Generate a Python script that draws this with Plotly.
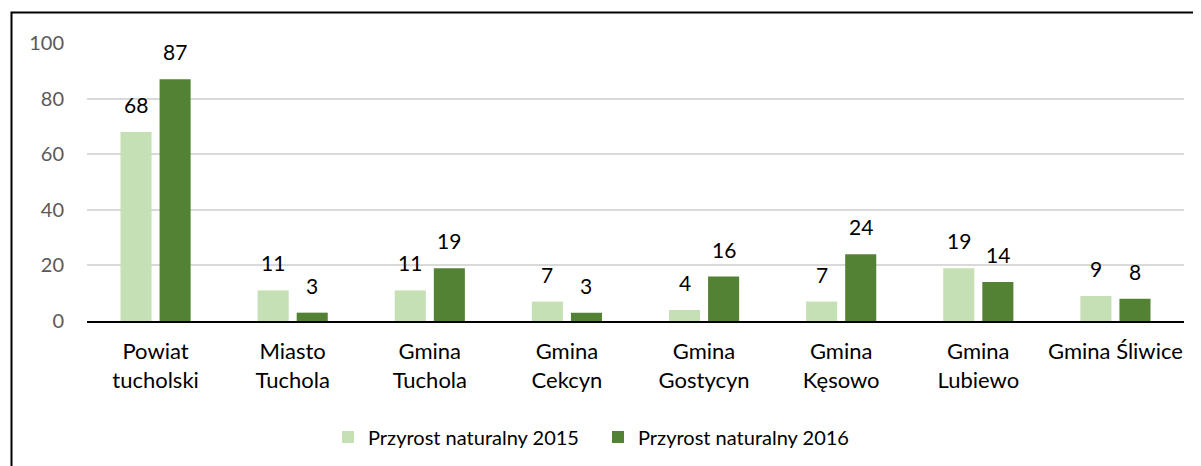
import plotly.graph_objects as go

categories = ["Powiat<br>tucholski", "Miasto<br>Tuchola", "Gmina<br>Tuchola", "Gmina<br>Cekcyn",
              "Gmina<br>Gostycyn", "Gmina<br>Kęsowo", "Gmina<br>Lubiewo", "Gmina Śliwice"]
values_2015 = [68, 11, 11, 7, 4, 7, 19, 9]
values_2016 = [87, 3, 19, 3, 16, 24, 14, 8]
series_names = ["Przyrost naturalny 2015", "Przyrost naturalny 2016"]
y_ticks = [0, 20, 40, 60, 80, 100]

# page body has an 8px margin; figure sized to fit the 1201x466 window
OFF = 8
W, H = 1201 - OFF, 466 - OFF
ML, MT = 87 - OFF, 43 - OFF
PW, PH = 1097, 278
MR = W - ML - PW
MB = H - MT - PH
FONT = "Lato, 'Open Sans', sans-serif"

fig = go.Figure()
fig.add_trace(go.Bar(x=categories, y=values_2015, name=series_names[0],
                     marker=dict(color="#C5E0B4", line=dict(width=0))))
fig.add_trace(go.Bar(x=categories, y=values_2016, name=series_names[1],
                     marker=dict(color="#548235", line=dict(width=0))))

annotations = []
for vals, shift in ((values_2015, -19.5), (values_2016, 19.5)):
    for c, v in zip(categories, vals):
        annotations.append(dict(x=c, y=v, xref="x", yref="y", text=str(v), showarrow=False,
                                xshift=shift, yshift=13, yanchor="bottom",
                                font=dict(family=FONT, size=21, color="#000000")))

shapes = [dict(type="rect", xref="paper", yref="paper",
               x0=(11.5 - OFF - ML) / PW, x1=(W + 20 - ML) / PW,
               y0=(MT + PH - (H + 20)) / PH, y1=(MT + PH - (12.5 - OFF)) / PH,
               line=dict(color="#000000", width=2), fillcolor="rgba(0,0,0,0)", layer="below")]

fig.update_layout(
    width=W, height=H,
    margin=dict(l=ML, r=MR, t=MT, b=MB, autoexpand=False),
    paper_bgcolor="white", plot_bgcolor="white",
    barmode="group", bargap=0.43, bargroupgap=0.205,
    font=dict(family=FONT, size=20, color="#000000"),
    showlegend=True,
    legend=dict(orientation="h", x=(342 - OFF - ML - 14) / PW, xanchor="left",
                y=(MT + PH - (437 - OFF)) / PH, yanchor="middle",
                font=dict(family=FONT, size=20, color="#000000"),
                itemwidth=30, traceorder="normal", bgcolor="rgba(0,0,0,0)",
                entrywidth=225, entrywidthmode="pixels"),
    annotations=annotations,
    shapes=shapes,
    xaxis=dict(showline=True, linecolor="#000000", linewidth=2, showgrid=False,
               tickfont=dict(family=FONT, size=22, color="#000000"), ticks="",
               ticklabelstandoff=10, fixedrange=True),
    yaxis=dict(range=[0, 100], tickvals=y_ticks, showgrid=True, gridcolor="#D9D9D9",
               gridwidth=1.5, zeroline=False, showline=False, ticks="",
               tickfont=dict(family=FONT, size=20, color="#595959"),
               ticklabelstandoff=22, fixedrange=True),
)

fig.write_html("out.html")
